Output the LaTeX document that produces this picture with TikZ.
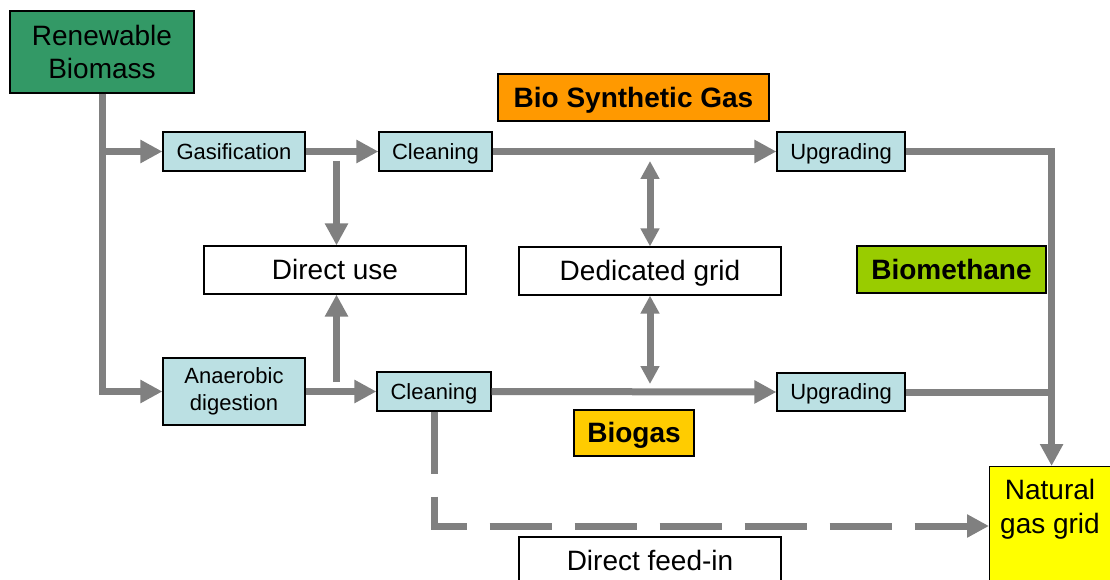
\documentclass[tikz,border=0pt]{standalone}
\usepackage{fontspec}
\setmainfont{Liberation Sans}
\usetikzlibrary{arrows.meta}
\definecolor{lgray}{RGB}{128,128,128}
\definecolor{biogreen}{RGB}{51,153,102}
\definecolor{cyanbox}{RGB}{187,224,227}
\definecolor{bsgorange}{RGB}{255,153,0}
\definecolor{bmgreen}{RGB}{153,204,0}
\definecolor{bggold}{RGB}{255,204,0}
\definecolor{nggyellow}{RGB}{255,255,0}
\begin{document}
\begin{tikzpicture}[x=1pt,y=-1pt,
 box/.style={draw=black,line width=1.2pt,inner sep=0pt,align=center},
 small/.style={box,fill=cyanbox,font=\fontsize{22}{27}\selectfont},
 onesmall/.style={small,text height=19.9pt,text depth=4.7pt},
 big/.style={box,fill=white,font=\fontsize{28}{33}\selectfont},
 onebig/.style={big,text height=25.3pt,text depth=5.9pt},
 tag/.style={box,font=\fontsize{28}{33}\selectfont\bfseries,text height=25.3pt,text depth=5.9pt},
 flow/.style={draw=lgray,line width=7pt},
 arr/.style={flow,-{Triangle[length=22pt,width=22pt]}},
 darr/.style={flow,{Triangle[length=18pt,width=18pt]}-{Triangle[length=18pt,width=18pt]}},
 dflow/.style={arr,dash pattern=on 62pt off 23pt},
]
\useasboundingbox (0,0) rectangle (1110,580);
\clip (0,0) rectangle (1110,580);

% nodes
\node[big,fill=biogreen,minimum width=184pt,minimum height=82pt] (bio) at (102,52) {Renewable\\Biomass};
\node[onesmall,minimum width=142pt,minimum height=39pt] (gas) at (234,151.5) {Gasification};
\node[onesmall,minimum width=113pt,minimum height=39pt] (cl1) at (435.5,151.5) {Cleaning};
\node[onesmall,minimum width=128pt,minimum height=39pt] (up1) at (841,151.5) {Upgrading};
\node[tag,fill=bsgorange,minimum width=271pt,minimum height=47pt] (bsg) at (633.5,97.5) {Bio Synthetic Gas};
\node[onebig,minimum width=262pt,minimum height=48pt] (du) at (335,270) {Direct use};
\node[onebig,minimum width=262pt,minimum height=48pt] (dg) at (650,271) {Dedicated grid};
\node[tag,fill=bmgreen,minimum width=189pt,minimum height=47pt] (bm) at (951.5,269.5) {Biomethane};
\node[small,minimum width=142pt,minimum height=67pt] (ad) at (234,391.5) {Anaerobic\\digestion};
\node[onesmall,minimum width=114pt,minimum height=39pt] (cl2) at (434,391.5) {Cleaning};
\node[onesmall,minimum width=128pt,minimum height=38pt] (up2) at (841,392) {Upgrading};
\node[tag,fill=bggold,minimum width=120pt,minimum height=46pt] (bg) at (634,433) {Biogas};
\node[box,fill=nggyellow,minimum width=124pt,minimum height=160pt,anchor=north west] (ngg) at (989,466) {};
\node[font=\fontsize{28}{34}\selectfont,align=center,inner sep=0pt] (ngt) at (1050,509) {Natural\\gas grid};
\node[onebig,minimum width=262pt,minimum height=48pt] (dfi) at (650,561) {Direct feed-in};

% helper coordinates
\coordinate (duTop) at (336.5,161);
\coordinate (duBot) at (336.5,382);
\coordinate (dgTop) at (650,161);
\coordinate (dgBot) at (650,384);
\coordinate (join) at (1051,392);

% connectors
\draw[arr] (bio.south) |- (ad.west);
\draw[arr] (bio.south |- gas.west) -- (gas.west);
\draw[arr] (gas.east) -- (cl1.west);
\draw[arr] (cl1.east) -- (up1.west);
\draw[arr] (up1.east) -| (ngg.north);
\draw[flow] (up2.east) -- (join);
\draw[arr] (ad.east) -- (cl2.west);
\draw[arr] (cl2.east) -- (up2.west);
\draw[arr] (duTop) -- (duTop |- du.north);
\draw[arr] (duBot) -- (duBot |- du.south);
\draw[darr] (dgTop) -- (dg.north);
\draw[darr] (dg.south) -- (dgBot);
\draw[dflow] (cl2.south) |- (ngg.west |- 0,526);
\end{tikzpicture}
\end{document}
